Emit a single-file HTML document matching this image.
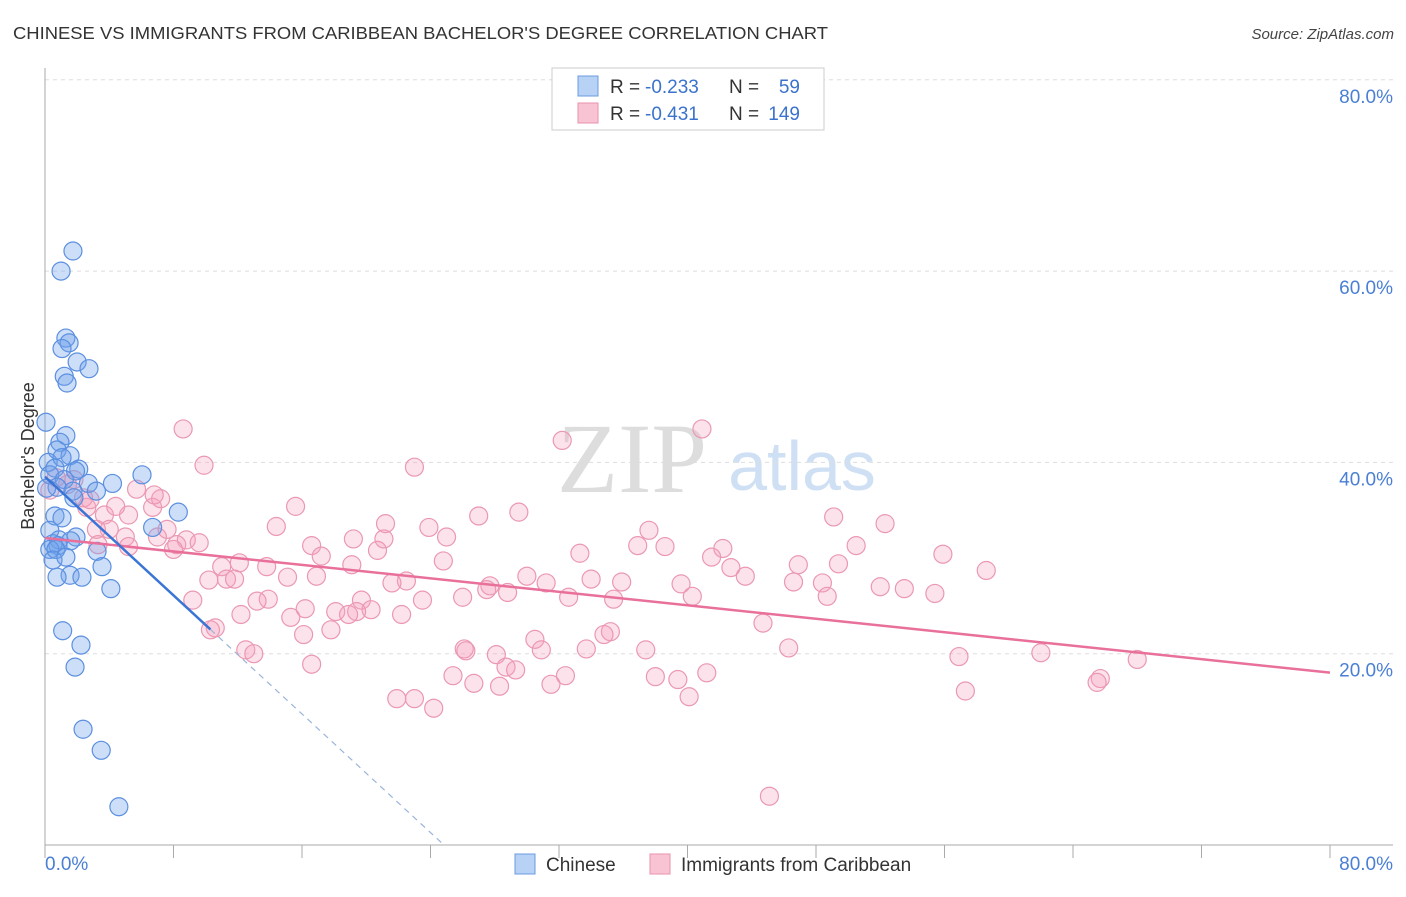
<!DOCTYPE html>
<html><head><meta charset="utf-8"><style>
body{margin:0;background:#fff;font-family:"Liberation Sans",sans-serif}
</style></head><body>
<svg id="chart" width="1406" height="892" xmlns="http://www.w3.org/2000/svg" style="font-family:'Liberation Sans',sans-serif">
<text x="13" y="39" font-size="17.5" fill="#333" textLength="815" lengthAdjust="spacingAndGlyphs">CHINESE VS IMMIGRANTS FROM CARIBBEAN BACHELOR'S DEGREE CORRELATION CHART</text>
<text x="1394" y="39" font-size="15" fill="#444" font-style="italic" text-anchor="end">Source: ZipAtlas.com</text>
<g>
<text x="632" y="492" font-size="100" font-family="'Liberation Serif',serif" fill="#ddd" text-anchor="middle">ZIP</text>
<text x="802" y="490" font-size="70" fill="#cfe0f5" text-anchor="middle">atlas</text>
</g>
<g id="grid"></g>
<g id="axes"></g>
<g id="pts"></g>
<g id="lines"></g>
<text transform="translate(34,456) rotate(-90)" font-size="18" fill="#333" text-anchor="middle">Bachelor's Degree</text>
<g font-size="19">
<rect x="552" y="68" width="272" height="62" fill="#fff" stroke="#ccc"/>
<rect x="578" y="76" width="20" height="20" fill="#b8d2f5" stroke="#6a9be0"/>
<rect x="578" y="103" width="20" height="20" fill="#f8c4d4" stroke="#ea92ae"/>
<text x="610" y="93" fill="#333">R =</text><text x="645" y="93" fill="#3b73cc">-0.233</text>
<text x="729" y="93" fill="#333">N =</text><text x="800" y="93" fill="#3b73cc" text-anchor="end">59</text>
<text x="610" y="120" fill="#333">R =</text><text x="645" y="120" fill="#3b73cc">-0.431</text>
<text x="729" y="120" fill="#333">N =</text><text x="800" y="120" fill="#3b73cc" text-anchor="end">149</text>
</g>
<g>
<rect x="515" y="854" width="20" height="20" fill="#b8d2f5" stroke="#6a9be0"/>
<text x="546" y="871" font-size="19" fill="#333">Chinese</text>
<rect x="650" y="854" width="20" height="20" fill="#f8c4d4" stroke="#ea92ae"/>
<text x="681" y="871" font-size="19" fill="#333">Immigrants from Caribbean</text>
</g>
</svg>
<script>
const yTicks=[20,40,60,80];
const yTickLabels=["20.0%","40.0%","60.0%","80.0%"];
const xTicks=[0,8,16,24,32,40,48,56,64,72,80];
const xEndLabels=["0.0%","80.0%"];
const chineseX=[1.74,1.0,1.3,1.5,1.06,2.0,2.74,1.2,1.37,0.06,1.3,0.93,0.75,1.56,0.2,1.06,0.62,2.1,1.9,6.04,0.3,4.2,2.7,1.2,0.75,1.74,3.2,1.8,8.3,0.62,1.06,6.7,0.3,1.93,0.87,1.6,0.5,0.81,0.3,3.24,0.68,0.5,1.3,3.55,1.56,2.3,0.75,4.1,1.1,2.24,1.87,2.37,3.5,4.6,0.1];
const chineseY=[62.1,60.0,53.0,52.5,51.9,50.5,49.8,49.0,48.3,44.2,42.8,42.1,41.3,40.7,40.0,40.5,39.4,39.3,39.1,38.7,38.7,37.8,37.8,38.2,37.4,37.0,37.0,36.3,34.8,34.4,34.2,33.2,32.9,32.2,31.9,31.8,31.5,31.3,30.9,30.7,30.9,29.8,30.1,29.1,28.2,28.0,28.0,26.8,22.4,20.9,18.6,12.1,9.9,4.0,37.3];
const caribX=[8.6,9.9,23.0,32.2,40.9,15.6,21.2,23.9,29.5,27.0,49.1,52.3,37.6,14.4,19.2,21.1,25.0,33.3,36.9,38.6,42.2,41.5,50.5,55.9,16.6,17.2,20.7,19.1,24.8,42.7,46.9,49.4,58.6,12.1,13.8,11.0,10.2,11.3,11.8,15.1,16.9,22.5,21.6,27.7,27.5,30.0,31.2,34.0,35.9,39.6,43.6,46.6,48.4,48.7,52.0,53.5,55.4,40.3,26.0,23.5,28.8,32.6,35.4,13.9,13.2,19.7,9.2,18.1,16.2,15.3,20.3,19.4,18.9,12.2,22.2,10.6,10.3,17.8,16.1,30.5,26.1,30.9,33.7,35.2,34.8,37.4,44.7,46.3,12.5,13.0,26.2,28.1,28.7,29.3,16.6,25.4,26.7,28.3,31.5,32.4,38.0,39.4,41.2,40.1,21.9,23.0,24.2,45.1,56.9,62.0,68.0,65.7,57.3,65.5,2.6,3.7,5.2,4.0,5.0,3.2,7.0,7.6,8.2,8.8,9.6,8.0,6.7,7.2,5.7,6.8,2.4,1.4,0.7,0.3,1.8,2.8,4.4,5.2,3.3];
const caribY=[43.5,39.7,39.5,42.3,43.5,35.4,33.6,33.2,34.8,34.4,34.3,33.6,32.9,33.3,32.0,32.0,32.2,30.5,31.3,31.2,31.0,30.1,31.3,30.4,31.3,30.2,30.8,29.3,29.7,29.0,29.3,29.4,28.7,29.5,29.1,29.1,27.7,27.8,27.8,28.0,28.1,27.6,27.4,27.1,26.7,28.1,27.4,27.8,27.5,27.3,28.1,27.5,27.4,26.0,27.0,26.8,26.3,26.0,25.9,25.6,26.4,25.9,25.7,25.7,25.5,25.6,25.6,24.4,24.7,23.8,24.6,24.4,24.1,24.1,24.1,22.7,22.5,22.5,22.0,21.5,20.5,20.4,20.5,22.3,22.0,20.4,23.2,20.6,20.4,20.0,20.3,19.9,18.6,18.3,18.9,17.7,16.9,16.6,16.8,17.7,17.6,17.3,18.0,15.5,15.3,15.3,14.3,5.1,19.7,20.1,19.4,17.4,16.1,17.0,35.3,34.5,34.5,33.0,32.2,33.0,32.2,33.0,31.4,31.9,31.6,30.9,35.3,36.2,37.2,36.6,36.3,37.7,38.4,37.1,38.2,36.1,35.4,31.2,31.4];
const chineseFit={a:38.5,b:-1.55};
const caribFit={a:32.1,b:-0.176};

const NS="http://www.w3.org/2000/svg";
const X0=45,X1=1330,Y0=845,YS=9.565;
const sx=v=>X0+v*(X1-X0)/80;
const sy=v=>Y0-v*YS;
function mk(t,a,p){const e=document.createElementNS(NS,t);for(const k in a)e.setAttribute(k,a[k]);p.appendChild(e);return e;}
const grid=document.getElementById('grid'),axes=document.getElementById('axes'),pts=document.getElementById('pts'),lines=document.getElementById('lines');
yTicks.forEach((t,i)=>{
 const l=mk('line',{x1:X0,x2:1393,y1:sy(t),y2:sy(t),stroke:'#ddd','stroke-dasharray':'4,4'},grid);
 
 
 const tx=mk('text',{x:1393,y:sy(t)+23,'font-size':19,fill:'#4a7fd4','text-anchor':'end'},axes);
 tx.textContent=yTickLabels[i];
 
 
});
let a=mk('line',{x1:X0,x2:X0,y1:68,y2:Y0,stroke:'#aaa'},axes);


a=mk('line',{x1:X0,x2:1393,y1:Y0,y2:Y0,stroke:'#aaa'},axes);


xTicks.forEach(t=>{
 const l=mk('line',{x1:sx(t),x2:sx(t),y1:Y0,y2:Y0+13,stroke:'#aaa'},axes);
 
 
});
let t0=mk('text',{x:X0,y:870,'font-size':19,fill:'#4a7fd4'},axes);t0.textContent=xEndLabels[0];


t0=mk('text',{x:1393,y:870,'font-size':19,fill:'#4a7fd4','text-anchor':'end'},axes);t0.textContent=xEndLabels[1];


caribX.forEach((v,i)=>{
 const c=mk('circle',{cx:sx(v),cy:sy(caribY[i]),r:9,fill:'rgba(244,160,188,0.3)',stroke:'#eb98b2','stroke-width':1.2},pts);
 
 
});
chineseX.forEach((v,i)=>{
 const c=mk('circle',{cx:sx(v),cy:sy(chineseY[i]),r:9,fill:'rgba(110,160,235,0.35)',stroke:'#5b8fe0','stroke-width':1.2},pts);
 
 
});
let l=mk('line',{x1:sx(0),y1:sy(caribFit.a),x2:sx(80),y2:sy(caribFit.a+caribFit.b*80),stroke:'#e8709a','stroke-width':2.5},lines);


const xs=10.3,xe=-chineseFit.a/chineseFit.b;
l=mk('line',{x1:sx(0),y1:sy(chineseFit.a),x2:sx(xs),y2:sy(chineseFit.a+chineseFit.b*xs),stroke:'#3a75d6','stroke-width':2.5},lines);


l=mk('line',{x1:sx(xs),y1:sy(chineseFit.a+chineseFit.b*xs),x2:sx(xe),y2:sy(0),stroke:'#9ab4dc','stroke-width':1.2,'stroke-dasharray':'6,5'},lines);


</script>
</body></html>
